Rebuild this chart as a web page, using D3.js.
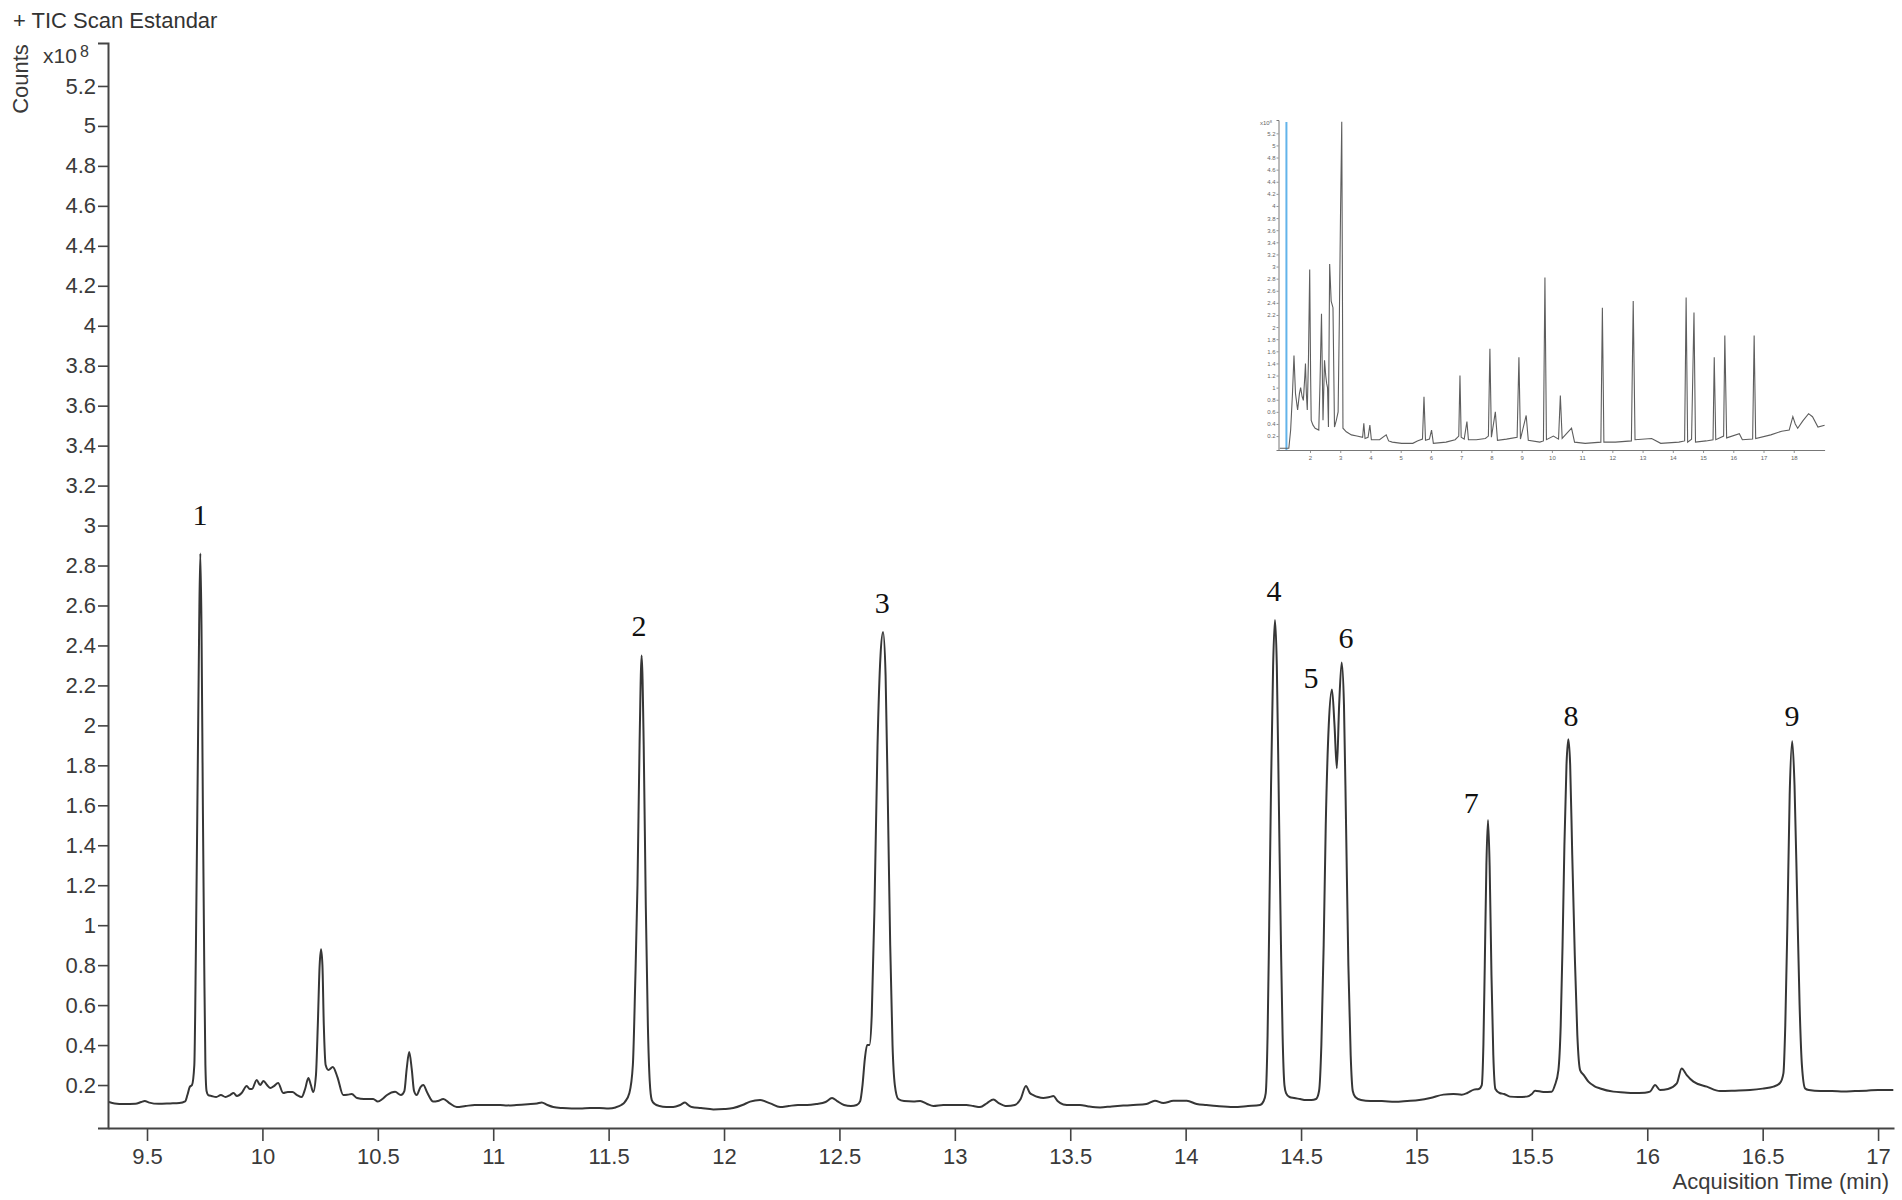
<!DOCTYPE html>
<html><head><meta charset="utf-8">
<script src="https://cdn.jsdelivr.net/npm/d3@7"></script>
<style>body{margin:0;background:#fff}svg{display:block}</style>
</head><body>
<svg id="chart" width="1902" height="1200"></svg>
<script>
// ---------- data ----------
const xTicks = [9.5,10,10.5,11,11.5,12,12.5,13,13.5,14,14.5,15,15.5,16,16.5,17];
const yTicks = [0.2,0.4,0.6,0.8,1,1.2,1.4,1.6,1.8,2,2.2,2.4,2.6,2.8,3,3.2,3.4,3.6,3.8,4,4.2,4.4,4.6,4.8,5,5.2];
const mainTrace = [
[9.335,0.115],[9.36,0.108],[9.40,0.105],[9.45,0.106],[9.475,0.115],[9.49,0.12],[9.51,0.112],[9.55,0.106],[9.60,0.108],[9.64,0.11],[9.665,0.118],[9.675,0.15],[9.685,0.19],[9.695,0.2],[9.705,0.3],
[9.712,0.9],[9.72,1.8],[9.726,2.5],[9.731,2.86],[9.736,2.5],[9.742,1.6],[9.748,0.8],[9.753,0.3],[9.758,0.17],[9.765,0.15],[9.78,0.145],[9.80,0.14],[9.82,0.15],[9.84,0.14],[9.86,0.15],[9.875,0.16],[9.89,0.145],[9.91,0.16],[9.932,0.195],[9.945,0.18],[9.955,0.18],[9.975,0.225],[9.99,0.2],[10.005,0.22],[10.02,0.2],[10.035,0.185],[10.05,0.195],[10.068,0.21],[10.09,0.16],[10.11,0.165],[10.13,0.165],[10.15,0.15],[10.17,0.14],[10.185,0.18],[10.199,0.235],[10.21,0.2],[10.22,0.165],[10.232,0.25],[10.24,0.5],[10.248,0.8],[10.254,0.88],[10.26,0.8],[10.266,0.5],[10.274,0.3],[10.286,0.275],[10.305,0.29],[10.325,0.24],[10.35,0.15],[10.37,0.152],[10.387,0.155],[10.41,0.135],[10.44,0.13],[10.48,0.13],[10.50,0.117],[10.52,0.13],[10.54,0.15],[10.575,0.166],[10.60,0.15],[10.615,0.17],[10.625,0.28],[10.636,0.365],[10.647,0.28],[10.657,0.17],[10.668,0.15],[10.685,0.19],[10.697,0.2],[10.715,0.16],[10.74,0.117],[10.76,0.12],[10.784,0.13],[10.81,0.11],[10.842,0.09],[10.88,0.095],[10.92,0.1],[10.957,0.1],[11.0,0.1],[11.03,0.1],[11.06,0.098],[11.10,0.1],[11.15,0.104],[11.19,0.108],[11.21,0.113],[11.235,0.1],[11.26,0.09],[11.30,0.085],[11.34,0.083],[11.376,0.083],[11.42,0.085],[11.46,0.085],[11.50,0.083],[11.53,0.088],[11.555,0.1],[11.57,0.115],[11.59,0.16],[11.605,0.3],
[11.615,0.7],[11.625,1.2],[11.634,1.9],[11.643,2.35],[11.652,1.9],[11.661,1.1],[11.67,0.5],[11.678,0.22],[11.687,0.125],[11.70,0.105],[11.72,0.095],[11.75,0.09],[11.78,0.09],[11.81,0.1],[11.831,0.112],[11.845,0.1],[11.86,0.09],[11.90,0.085],[11.954,0.078],[12.0,0.08],[12.04,0.085],[12.08,0.1],[12.113,0.117],[12.156,0.125],[12.2,0.108],[12.243,0.09],[12.28,0.095],[12.32,0.1],[12.36,0.1],[12.40,0.105],[12.44,0.115],[12.468,0.135],[12.49,0.12],[12.52,0.1],[12.55,0.095],[12.575,0.1],[12.59,0.12],[12.60,0.2],[12.61,0.33],[12.62,0.4],[12.63,0.4],[12.64,0.55],
[12.652,1.1],[12.665,1.9],[12.678,2.35],[12.689,2.467],[12.70,2.25],[12.71,1.6],[12.72,0.9],[12.73,0.4],[12.74,0.2],[12.755,0.13],[12.78,0.12],[12.82,0.118],[12.85,0.12],[12.88,0.105],[12.907,0.095],[12.95,0.1],[13.0,0.1],[13.05,0.1],[13.08,0.095],[13.109,0.09],[13.14,0.11],[13.167,0.128],[13.19,0.11],[13.225,0.095],[13.26,0.1],[13.285,0.13],[13.308,0.195],[13.325,0.16],[13.34,0.15],[13.36,0.14],[13.383,0.135],[13.41,0.14],[13.427,0.145],[13.445,0.12],[13.47,0.103],[13.5,0.1],[13.542,0.1],[13.58,0.093],[13.629,0.088],[13.68,0.093],[13.73,0.097],[13.773,0.1],[13.83,0.105],[13.867,0.121],[13.903,0.11],[13.947,0.121],[14.005,0.121],[14.048,0.105],[14.09,0.1],[14.135,0.095],[14.207,0.09],[14.27,0.095],[14.322,0.1],[14.338,0.12],[14.347,0.16],[14.355,0.45],
[14.362,1.0],[14.37,1.7],[14.379,2.3],[14.387,2.527],[14.395,2.3],[14.404,1.6],[14.413,0.9],[14.42,0.45],[14.428,0.2],[14.435,0.16],[14.45,0.14],[14.47,0.135],[14.496,0.13],[14.52,0.125],[14.545,0.125],[14.565,0.13],[14.578,0.17],[14.588,0.4],[14.598,0.9],
[14.607,1.5],[14.62,2.0],[14.634,2.18],[14.645,2.0],[14.655,1.786],[14.665,2.1],[14.676,2.315],[14.686,2.1],[14.695,1.5],[14.705,0.8],[14.715,0.35],[14.724,0.17],[14.735,0.14],[14.76,0.125],[14.8,0.12],[14.85,0.12],[14.906,0.116],[14.96,0.12],[15.012,0.125],[15.06,0.135],[15.117,0.152],[15.16,0.155],[15.196,0.152],[15.22,0.16],[15.249,0.177],[15.27,0.18],[15.283,0.2],[15.29,0.4],
[15.296,0.8],[15.303,1.3],[15.31,1.526],[15.317,1.3],[15.325,0.75],[15.333,0.35],[15.342,0.18],[15.36,0.16],[15.38,0.155],[15.405,0.142],[15.44,0.14],[15.478,0.142],[15.50,0.155],[15.514,0.172],[15.55,0.165],[15.586,0.167],[15.60,0.2],[15.615,0.275],[15.625,0.5],
[15.633,0.9],[15.641,1.4],[15.65,1.8],[15.658,1.93],[15.666,1.8],[15.675,1.35],[15.686,0.85],[15.697,0.45],[15.709,0.275],[15.725,0.25],[15.745,0.217],[15.77,0.195],[15.796,0.183],[15.853,0.167],[15.9,0.163],[15.94,0.16],[15.99,0.162],[16.012,0.167],[16.034,0.2],[16.055,0.175],[16.09,0.18],[16.128,0.208],[16.149,0.283],[16.171,0.25],[16.2,0.217],[16.258,0.192],[16.315,0.17],[16.38,0.172],[16.445,0.175],[16.5,0.182],[16.547,0.192],[16.575,0.21],[16.59,0.26],[16.598,0.5],
[16.607,1.0],[16.617,1.65],[16.628,1.92],[16.638,1.7],[16.65,1.1],[16.66,0.6],[16.67,0.3],[16.684,0.183],[16.70,0.175],[16.75,0.17],[16.8,0.17],[16.85,0.168],[16.9,0.17],[16.95,0.172],[17.0,0.175],[17.066,0.175]
];
const peakLabels = ["1","2","3","4","5","6","7","8","9"];
const peakLabelTime = [9.73,11.632,12.685,14.383,14.543,14.695,15.237,15.67,16.627];
const peakLabelCounts = [3.003,2.447,2.562,2.622,2.187,2.387,1.561,1.997,1.997];

const insetXTicks = [2,3,4,5,6,7,8,9,10,11,12,13,14,15,16,17,18];
const insetYTicks = [0.2,0.4,0.6,0.8,1,1.2,1.4,1.6,1.8,2,2.2,2.4,2.6,2.8,3,3.2,3.4,3.6,3.8,4,4.2,4.4,4.6,4.8,5,5.2];
const insetMarkerTime = [1.22];
const insetTrace = [
[1.0,0.0],[1.3,0.0],[1.36,0.3],[1.42,0.9],[1.47,1.53],[1.52,0.9],[1.59,0.63],[1.65,0.9],[1.69,1.0],[1.74,0.85],[1.78,0.79],[1.83,1.2],[1.85,1.4],[1.88,0.9],[1.91,0.63],[1.95,1.5],[1.99,2.95],[2.02,1.2],[2.04,0.46],[2.1,0.38],[2.17,0.33],[2.29,0.3],[2.33,1.06],[2.38,2.22],[2.43,0.46],[2.48,1.45],[2.52,1.2],[2.55,1.07],[2.58,1.0],[2.61,0.35],[2.65,3.04],[2.70,2.43],[2.76,2.32],[2.81,0.35],[2.87,0.46],[2.93,0.6],[2.97,2.11],[3.01,3.9],[3.05,5.39],[3.07,3.0],[3.09,0.33],[3.2,0.27],[3.37,0.22],[3.55,0.2],[3.74,0.18],[3.78,0.41],[3.82,0.16],[3.92,0.18],[3.98,0.38],[4.03,0.14],[4.3,0.14],[4.52,0.22],[4.6,0.12],[4.72,0.1],[5.03,0.08],[5.4,0.08],[5.55,0.12],[5.72,0.15],[5.77,0.85],[5.82,0.13],[5.95,0.15],[6.02,0.3],[6.08,0.08],[6.5,0.1],[6.8,0.14],[6.92,0.2],[6.96,1.2],[7.0,0.18],[7.1,0.15],[7.19,0.44],[7.24,0.14],[7.5,0.14],[7.8,0.16],[7.9,0.2],[7.95,1.64],[8.0,0.18],[8.13,0.6],[8.2,0.13],[8.5,0.15],[8.85,0.18],[8.91,1.5],[8.96,0.15],[9.15,0.54],[9.22,0.13],[9.6,0.1],[9.72,0.12],[9.77,2.82],[9.82,0.14],[10.05,0.2],[10.22,0.15],[10.28,0.87],[10.34,0.16],[10.65,0.33],[10.75,0.1],[11.1,0.08],[11.62,0.1],[11.67,2.32],[11.72,0.1],[12.1,0.1],[12.63,0.12],[12.69,2.43],[12.75,0.14],[13.3,0.16],[13.6,0.08],[14.2,0.1],[14.39,0.12],[14.44,2.49],[14.49,0.1],[14.62,0.15],[14.7,2.24],[14.75,0.1],[15.1,0.12],[15.33,0.14],[15.37,1.5],[15.42,0.14],[15.68,0.2],[15.72,1.86],[15.78,0.17],[16.2,0.24],[16.3,0.14],[16.64,0.15],[16.69,1.86],[16.74,0.16],[17.24,0.22],[17.6,0.28],[17.85,0.3],[17.97,0.52],[18.05,0.4],[18.13,0.33],[18.3,0.45],[18.49,0.57],[18.62,0.52],[18.8,0.35],[19.02,0.38]
];

// ---------- drawing ----------
const svg = d3.select("#chart");
const FONT = "'Liberation Sans', Arial, sans-serif";
const TXT = "#3a3a3a";

const x = d3.scaleLinear().domain([9.331, 17.069]).range([108, 1894]);
const y = d3.scaleLinear().domain([-0.015, 5.415]).range([1128, 43]);

// trace
svg.append("path")
  .datum(mainTrace)
  .attr("fill", "none")
  .attr("stroke", "#363636")
  .attr("stroke-width", 2)
  .attr("stroke-linejoin", "round")
  .attr("d", d3.line().x(d => x(d[0])).y(d => y(d[1])).curve(d3.curveMonotoneX));

// x axis
const gx = svg.append("g").attr("transform", `translate(0,${y.range()[0]})`)
  .call(d3.axisBottom(x).tickValues(xTicks).tickSize(13).tickPadding(7).tickSizeOuter(0).tickFormat(d => String(d)));
// y axis
const gy = svg.append("g").attr("transform", `translate(${x.range()[0]},0)`)
  .call(d3.axisLeft(y).tickValues(yTicks).tickSize(10).tickPadding(2).tickSizeOuter(10).tickFormat(d => String(d)));

[gx, gy].forEach(g => {
  g.select(".domain").attr("stroke", "#444").attr("stroke-width", 2);
  g.selectAll(".tick line").attr("stroke", "#444").attr("stroke-width", 1.6);
  g.selectAll(".tick text").attr("fill", TXT).style("font-family", FONT).style("font-size", "22px");
});

// multiplier label at top of y axis
const mult = svg.append("text").attr("x", 43).attr("y", 63)
  .style("font-family", FONT).style("font-size", "21px").attr("fill", TXT);
mult.append("tspan").text("x10");
mult.append("tspan").attr("x", 80).attr("y", 57).style("font-size", "16px").text("8");

// titles
svg.append("text").attr("x", 13).attr("y", 28).text("+ TIC Scan Estandar")
  .style("font-family", FONT).style("font-size", "22px").attr("fill", "#333");
svg.append("text").attr("transform", "translate(28,79) rotate(-90)").attr("text-anchor", "middle")
  .text("Counts").style("font-family", FONT).style("font-size", "22px").attr("fill", TXT);
svg.append("text").attr("x", 1889).attr("y", 1189).attr("text-anchor", "end")
  .text("Acquisition Time (min)").style("font-family", FONT).style("font-size", "22px").attr("fill", TXT);

// peak labels
svg.append("g").selectAll("text").data(peakLabels).join("text")
  .attr("x", (d, i) => x(peakLabelTime[i]))
  .attr("y", (d, i) => y(peakLabelCounts[i]))
  .attr("text-anchor", "middle")
  .style("font-family", "'Liberation Serif', 'Times New Roman', serif")
  .style("font-size", "30px").attr("fill", "#111")
  .text(d => d);

// ---------- inset ----------
const ix = d3.scaleLinear().domain([0.958, 19.02]).range([1278.5, 1824.6]);
const iy = d3.scaleLinear().domain([-0.03, 5.42]).range([450, 120]);
const inset = svg.append("g");

inset.append("line")
  .attr("x1", ix(insetMarkerTime[0])).attr("x2", ix(insetMarkerTime[0]))
  .attr("y1", 122).attr("y2", 450)
  .attr("stroke", "#62b4ea").attr("stroke-width", 2);

inset.append("path").datum(insetTrace)
  .attr("fill", "none").attr("stroke", "#5e5e5e").attr("stroke-width", 1.1)
  .attr("d", d3.line().x(d => ix(d[0])).y(d => iy(d[1])));

const igx = inset.append("g").attr("transform", "translate(0,450)")
  .call(d3.axisBottom(ix).tickValues(insetXTicks).tickSize(3).tickPadding(3).tickSizeOuter(0).tickFormat(d => String(d)));
const igy = inset.append("g").attr("transform", "translate(1278.5,0)")
  .call(d3.axisLeft(iy).tickValues(insetYTicks).tickSize(2).tickPadding(1).tickSizeOuter(2).tickFormat(d => String(d)));
[igx, igy].forEach(g => {
  g.select(".domain").attr("stroke", "#777").attr("stroke-width", 1);
  g.selectAll(".tick line").attr("stroke", "#777").attr("stroke-width", 0.8);
  g.selectAll(".tick text").attr("fill", "#666").style("font-family", FONT).style("font-size", "6px");
});
const im = inset.append("text").attr("x", 1260).attr("y", 125)
  .style("font-family", FONT).style("font-size", "6px").attr("fill", "#666");
im.append("tspan").text("x10");
im.append("tspan").attr("dy", -2).style("font-size", "4px").text("8");
</script>
</body></html>
